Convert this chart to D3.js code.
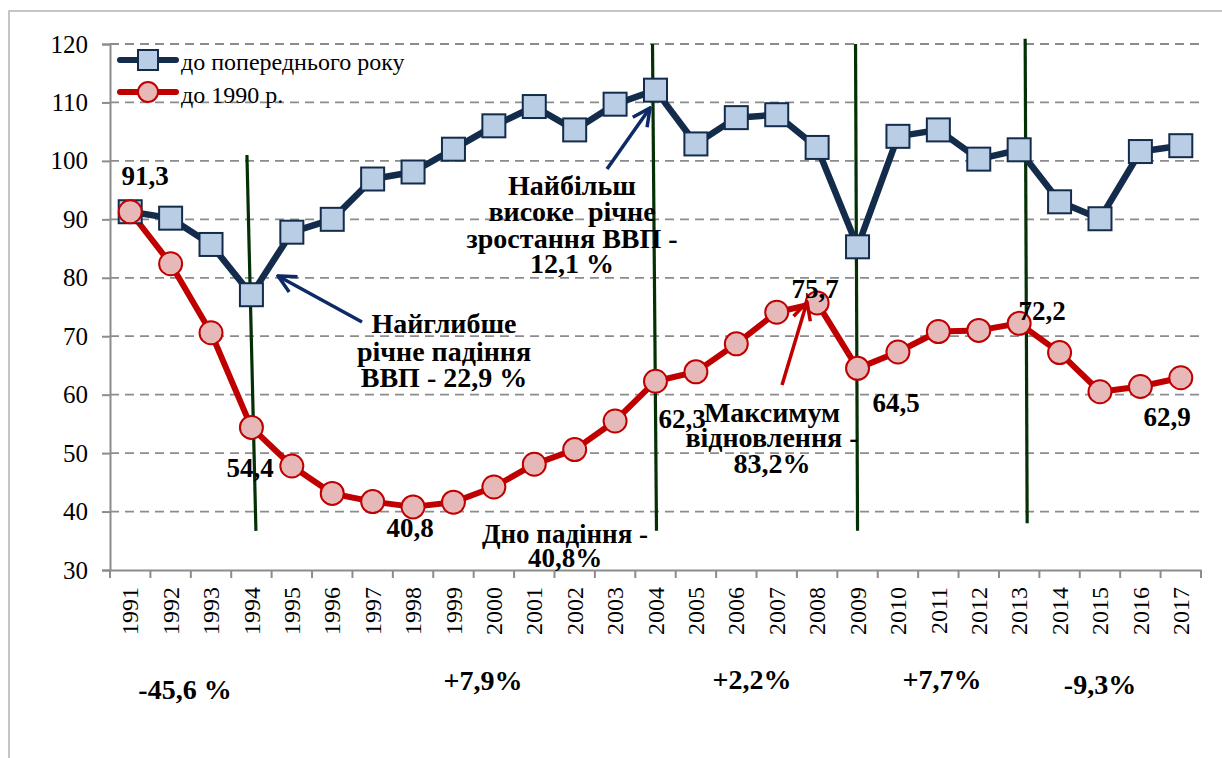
<!DOCTYPE html>
<html><head><meta charset="utf-8">
<script src="https://cdn.jsdelivr.net/npm/d3@7"></script>
<style>html,body{margin:0;padding:0;background:#fff;}svg{display:block;}</style>
</head><body>
<svg id="c" width="1222" height="758"></svg>
<script>
const years = ["1991","1992","1993","1994","1995","1996","1997","1998","1999","2000","2001","2002","2003","2004","2005","2006","2007","2008","2009","2010","2011","2012","2013","2014","2015","2016","2017"];
const prevYear = [91.3,90.2,85.7,77.1,87.8,90.0,96.9,98.1,102.0,106.0,109.3,105.3,109.7,112.1,102.9,107.4,107.9,102.3,85.3,104.2,105.3,100.3,101.9,93.0,90.1,101.6,102.6];
const to1990 = [91.3,82.4,70.6,54.4,47.8,43.1,41.7,40.8,41.6,44.2,48.1,50.6,55.5,62.3,63.9,68.7,74.1,75.7,64.5,67.3,70.8,71.0,72.2,67.2,60.5,61.4,62.9];
const yTicks = [30,40,50,60,70,80,90,100,110,120];
const seriesNames = ["до попереднього року","до 1990 р."];

const svg = d3.select("#c");
const FONT = "Liberation Serif";
const L = 110, R = 1201, T = 44, B = 570;
const x = d3.scaleBand().domain(years).range([L, R]).paddingInner(0).paddingOuter(0);
const y = d3.scaleLinear().domain([30, 120]).range([B, T]);
const cx = d => x(d) + x.bandwidth() / 2;

// outer border
svg.append("rect").attr("x", 9).attr("y", 11).attr("width", 1300).attr("height", 900)
  .attr("fill", "none").attr("stroke", "#b3b3b3").attr("stroke-width", 1.5);

// gridlines
svg.append("g").selectAll("line").data(yTicks.filter(t => t > 30)).join("line")
  .attr("x1", L).attr("x2", 1203).attr("y1", d => y(d)).attr("y2", d => y(d))
  .attr("stroke", "#8c8c8c").attr("stroke-width", 1.8).attr("stroke-dasharray", "9,6");

// y axis
const ya = svg.append("g").attr("transform", `translate(${L},0)`)
  .call(d3.axisLeft(y).tickValues(yTicks).tickSize(8).tickPadding(14).tickFormat(d3.format("d")));
ya.attr("font-family", null).attr("font-size", null);
ya.select(".domain").attr("stroke", "#8c8c8c").attr("stroke-width", 2);
ya.selectAll(".tick line").attr("stroke", "#8c8c8c").attr("stroke-width", 2);
ya.selectAll(".tick text").style("font-family", FONT).style("font-size", "25px").attr("fill", "#000");

// x axis
const xa = svg.append("g").attr("transform", `translate(0,${B})`)
  .call(d3.axisBottom(x).tickSize(0).tickSizeOuter(0));
xa.attr("font-family", null).attr("font-size", null);
xa.select(".domain").attr("stroke", "#8c8c8c").attr("stroke-width", 2);
xa.selectAll(".tick line").remove();
xa.selectAll(".tick text").style("font-family", FONT).style("font-size", "24px").attr("fill", "#000")
  .attr("transform", "rotate(-90)").attr("text-anchor", "end").attr("dy", "0.34em")
  .attr("x", -17).attr("y", 0);
// boundary ticks
svg.append("g").selectAll("line").data(d3.range(years.length + 1)).join("line")
  .attr("x1", i => L + i * x.bandwidth()).attr("x2", i => L + i * x.bandwidth())
  .attr("y1", B).attr("y2", B + 8).attr("stroke", "#8c8c8c").attr("stroke-width", 2);

// green period separators: [year, topValue, bottomValue, dxTop, dxBottom]
const separators = [["1994",101,36.7,-4.5,4.5],["2004",120,36.7,-3,1],["2009",120,36.7,-2,0],["2013",120.9,38,6,8]];
svg.append("g").selectAll("line").data(separators).join("line")
  .attr("x1", d => cx(d[0]) + d[3]).attr("x2", d => cx(d[0]) + d[4])
  .attr("y1", d => y(d[1])).attr("y2", d => y(d[2]))
  .attr("stroke", "#053005").attr("stroke-width", 3.2);

// lines
const lineGen = d3.line().x((d, i) => cx(years[i])).y(d => y(d));
svg.append("path").datum(to1990).attr("d", lineGen).attr("fill", "none")
  .attr("stroke", "#c00000").attr("stroke-width", 6).attr("stroke-linejoin", "round");
svg.append("path").datum(prevYear).attr("d", lineGen).attr("fill", "none")
  .attr("stroke", "#142c4c").attr("stroke-width", 6.5).attr("stroke-linejoin", "round");

// markers
const S = 23;
svg.append("g").selectAll("rect").data(prevYear).join("rect")
  .attr("x", (d, i) => cx(years[i]) - S / 2).attr("y", d => y(d) - S / 2)
  .attr("width", S).attr("height", S).attr("fill", "#b9cde5").attr("stroke", "#142c4c").attr("stroke-width", 2);
svg.append("g").selectAll("circle").data(to1990).join("circle")
  .attr("cx", (d, i) => cx(years[i])).attr("cy", d => y(d)).attr("r", 11.5)
  .attr("fill", "#e6b9b8").attr("stroke", "#c00000").attr("stroke-width", 2);

// legend
const lg = svg.append("g");
lg.append("line").attr("x1", 120).attr("x2", 176).attr("y1", 60).attr("y2", 60).attr("stroke", "#142c4c").attr("stroke-width", 6).attr("stroke-linecap", "round");
lg.append("rect").attr("x", 138).attr("y", 50).attr("width", 20).attr("height", 20).attr("fill", "#b9cde5").attr("stroke", "#142c4c").attr("stroke-width", 2);
lg.append("line").attr("x1", 120).attr("x2", 176).attr("y1", 92).attr("y2", 92).attr("stroke", "#c00000").attr("stroke-width", 6).attr("stroke-linecap", "round");
lg.append("circle").attr("cx", 148).attr("cy", 92).attr("r", 10).attr("fill", "#e6b9b8").attr("stroke", "#c00000").attr("stroke-width", 2);
lg.selectAll("text").data(seriesNames).join("text")
  .attr("x", 181).attr("y", (d, i) => 70 + i * 33).text(d => d)
  .style("font-family", FONT).style("font-size", "24px").attr("fill", "#000");

// arrows
const defs = svg.append("defs");
[["ab", "#0e2a66"], ["ar", "#c00000"]].forEach(([id, col]) => {
  defs.append("marker").attr("id", id).attr("viewBox", "0 0 12 12").attr("refX", 11).attr("refY", 6)
    .attr("markerWidth", 6).attr("markerHeight", 6).attr("markerUnits", "strokeWidth").attr("orient", "auto")
    .append("path").attr("d", "M1,1 L11,6 L1,11").attr("fill", "none").attr("stroke", col).attr("stroke-width", 2);
});
const arrows = [[362, 322, 278, 276, "#0e2a66", "ab"], [607, 169, 650, 108, "#0e2a66", "ab"], [782, 385, 807, 302, "#c00000", "ar"]];
svg.append("g").selectAll("line").data(arrows).join("line")
  .attr("x1", d => d[0]).attr("y1", d => d[1]).attr("x2", d => d[2]).attr("y2", d => d[3])
  .attr("stroke", d => d[4]).attr("stroke-width", 3.5).attr("marker-end", d => `url(#${d[5]})`);

// annotation texts: [x, baseline, text, size]
const notes = [
  [145, 185, "91,3", 27], [250, 477, "54,4", 27], [410, 537, "40,8", 27], [682, 428, "62,3", 27],
  [815, 298, "75,7", 27], [896, 412, "64,5", 27], [1042, 320, "72,2", 27], [1167, 426, "62,9", 27],
  [444, 333, "Найглибше", 28], [444, 361, "річне падіння", 28], [444, 387, "ВВП - 22,9 %", 28],
  [572, 195, "Найбільш", 28], [572, 221, "високе  річне", 28], [572, 248, "зростання ВВП -", 28], [572, 273, "12,1 %", 28],
  [565, 543, "Дно падіння -", 27], [565, 567, "40,8%", 27],
  [772, 422, "Максимум", 28], [772, 447, "відновлення -", 28], [772, 473, "83,2%", 28],
  [185, 699, "-45,6 %", 28], [483, 690, "+7,9%", 28], [752, 689, "+2,2%", 28], [942, 689, "+7,7%", 28], [1100, 694, "-9,3%", 28]
];
svg.append("g").selectAll("text").data(notes).join("text")
  .attr("x", d => d[0]).attr("y", d => d[1]).text(d => d[2])
  .attr("text-anchor", "middle").style("font-family", FONT).style("font-weight", "bold")
  .style("font-size", d => d[3] + "px").attr("fill", "#000").attr("xml:space", "preserve");
</script>
</body></html>
